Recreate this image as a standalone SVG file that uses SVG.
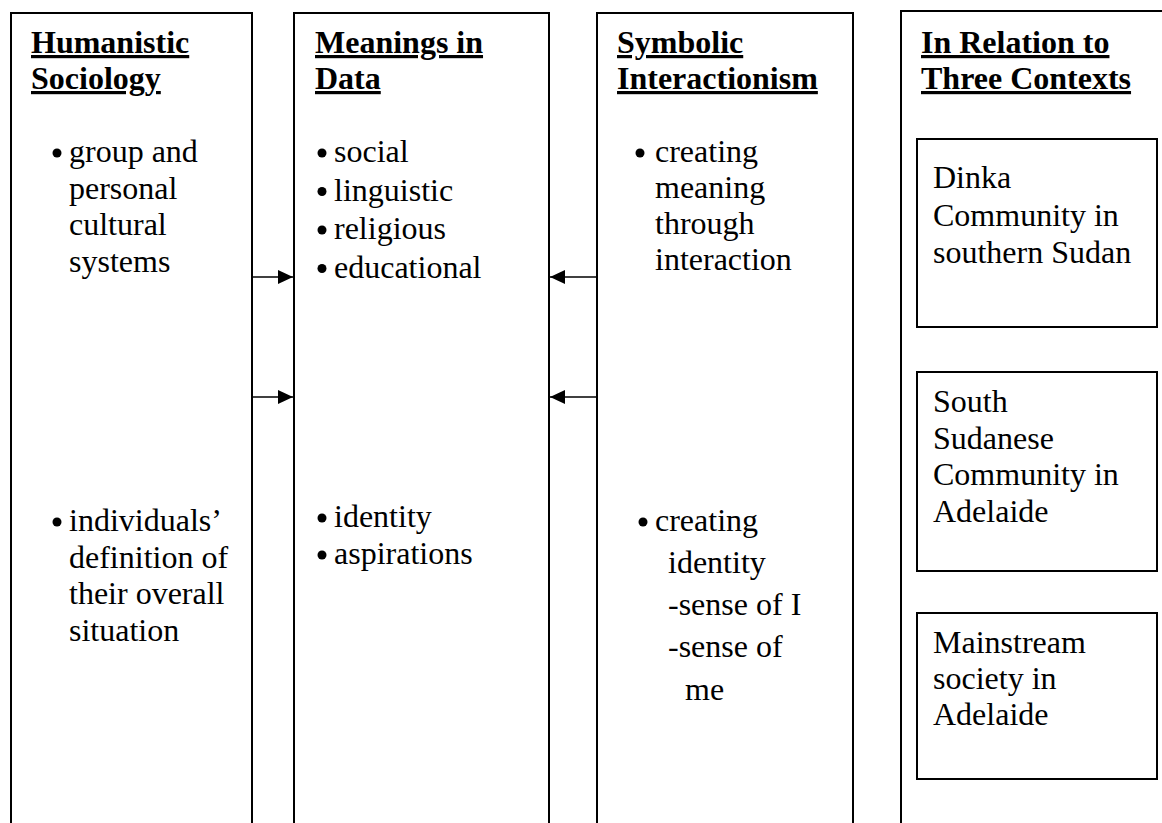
<svg xmlns="http://www.w3.org/2000/svg" width="1162" height="823" viewBox="0 0 1162 823">
<style>
  .box { fill: #fff; stroke: #000; stroke-width: 2; }
  .inner { fill: #fff; stroke: #000; stroke-width: 2; }
  .t { font-family: "Liberation Serif", "Times New Roman", serif; font-size: 32px; fill: #000; }
  .h { font-family: "Liberation Serif", "Times New Roman", serif; font-size: 32px; font-weight: bold; fill: #000; text-decoration: underline; }
  .dot { fill: #000; }
  .conn { stroke: #000; stroke-width: 1.5; fill: none; marker-end: url(#arrow); }
</style>
<defs>
  <marker id="arrow" markerUnits="userSpaceOnUse" markerWidth="16" markerHeight="14" refX="15" refY="7" orient="auto">
    <path d="M0,0 L15,7 L0,14 Z" fill="#000"/>
  </marker>
</defs>
<rect width="1162" height="823" fill="#fff"/>

<g id="humanistic-sociology">
  <rect class="box" x="11" y="13" width="241" height="840"/>
  <text class="h" x="31" y="53">Humanistic</text>
  <text class="h" x="31" y="89">Sociology</text>
  <circle class="dot" cx="57" cy="153" r="4.5"/>
  <text class="t" x="69" y="162">group and</text>
  <text class="t" x="69" y="198.5">personal</text>
  <text class="t" x="69" y="235">cultural</text>
  <text class="t" x="69" y="271.5">systems</text>
  <circle class="dot" cx="57" cy="522" r="4.5"/>
  <text class="t" x="69" y="531">individuals’</text>
  <text class="t" x="69" y="567.5">definition of</text>
  <text class="t" x="69" y="604">their overall</text>
  <text class="t" x="69" y="640.5">situation</text>
</g>

<g id="meanings-in-data">
  <rect class="box" x="294" y="13" width="255" height="840"/>
  <text class="h" x="315" y="53">Meanings in</text>
  <text class="h" x="315" y="89">Data</text>
  <circle class="dot" cx="322" cy="153" r="4.5"/>
  <text class="t" x="334" y="162">social</text>
  <circle class="dot" cx="322" cy="191.5" r="4.5"/>
  <text class="t" x="334" y="200.5">linguistic</text>
  <circle class="dot" cx="322" cy="230" r="4.5"/>
  <text class="t" x="334" y="239">religious</text>
  <circle class="dot" cx="322" cy="268.5" r="4.5"/>
  <text class="t" x="334" y="277.5">educational</text>
  <circle class="dot" cx="322" cy="518" r="4.5"/>
  <text class="t" x="334" y="527">identity</text>
  <circle class="dot" cx="322" cy="555" r="4.5"/>
  <text class="t" x="334" y="564">aspirations</text>
</g>

<g id="symbolic-interactionism">
  <rect class="box" x="597" y="13" width="256" height="840"/>
  <text class="h" x="617" y="53">Symbolic</text>
  <text class="h" x="617" y="89">Interactionism</text>
  <circle class="dot" cx="640" cy="153" r="4.5"/>
  <text class="t" x="655" y="162">creating</text>
  <text class="t" x="655" y="198">meaning</text>
  <text class="t" x="655" y="234">through</text>
  <text class="t" x="655" y="270">interaction</text>
  <circle class="dot" cx="643" cy="522" r="4.5"/>
  <text class="t" x="655" y="531">creating</text>
  <text class="t" x="668" y="573">identity</text>
  <text class="t" x="668" y="615">-sense of I</text>
  <text class="t" x="668" y="657">-sense of</text>
  <text class="t" x="685" y="700">me</text>
</g>

<g id="three-contexts">
  <rect class="box" x="901" y="11" width="300" height="840"/>
  <text class="h" x="921" y="53">In Relation to</text>
  <text class="h" x="921" y="89">Three Contexts</text>
</g>

<g id="dinka-community">
  <rect class="inner" x="917" y="139" width="240" height="188"/>
  <text class="t" x="933" y="188">Dinka</text>
  <text class="t" x="933" y="225.5">Community in</text>
  <text class="t" x="933" y="263">southern Sudan</text>
</g>

<g id="south-sudanese-community">
  <rect class="inner" x="917" y="372" width="240" height="199"/>
  <text class="t" x="933" y="412">South</text>
  <text class="t" x="933" y="448.5">Sudanese</text>
  <text class="t" x="933" y="485">Community in</text>
  <text class="t" x="933" y="521.5">Adelaide</text>
</g>

<g id="mainstream-society">
  <rect class="inner" x="917" y="613" width="240" height="166"/>
  <text class="t" x="933" y="653">Mainstream</text>
  <text class="t" x="933" y="689">society in</text>
  <text class="t" x="933" y="725">Adelaide</text>
</g>

<g id="connectors">
  <line class="conn" x1="252" y1="277" x2="293" y2="277"/>
  <line class="conn" x1="252" y1="397" x2="293" y2="397"/>
  <line class="conn" x1="597" y1="277" x2="550" y2="277"/>
  <line class="conn" x1="598" y1="397" x2="550" y2="397"/>
</g>
</svg>
